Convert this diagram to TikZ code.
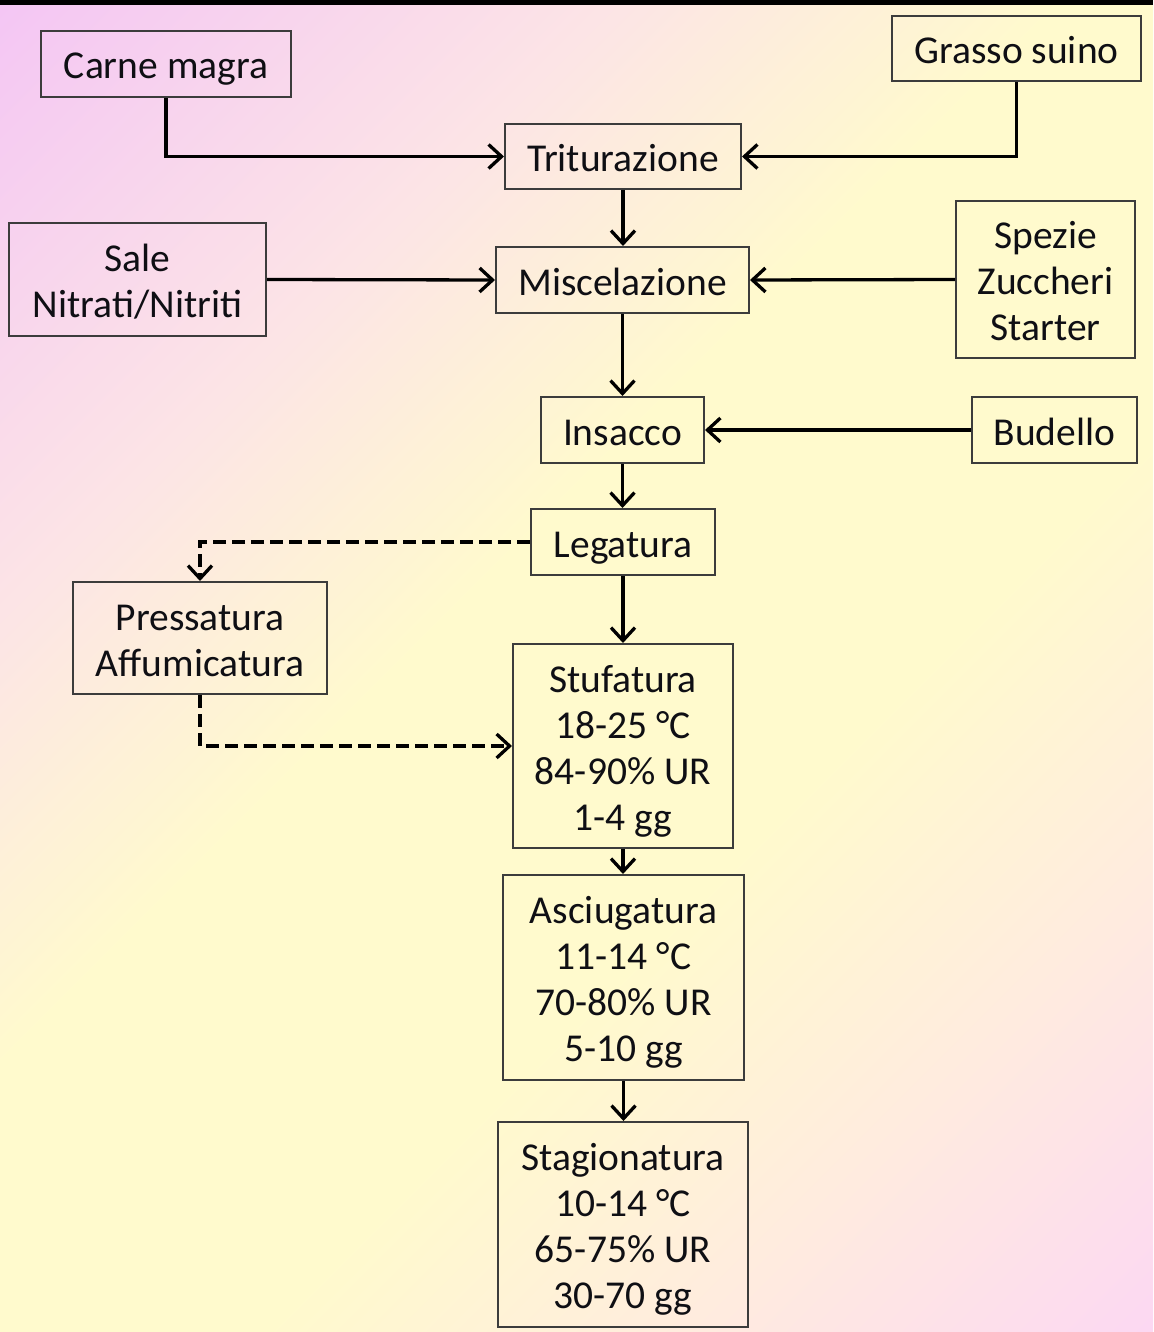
\documentclass[tikz,border=0pt]{standalone}
\usepackage{fontspec}
\setmainfont{Carlito}
\usetikzlibrary{arrows.meta}
\definecolor{pinkA}{RGB}{244,198,244}
\definecolor{peachA}{RGB}{252,228,230}
\definecolor{yel}{RGB}{255,250,205}
\definecolor{peachB}{RGB}{255,236,222}
\definecolor{pinkB}{RGB}{252,216,242}
\definecolor{boxgray}{RGB}{60,60,60}
\definecolor{txt}{RGB}{15,15,20}
\pgfdeclareverticalshading{bggrad}{100bp}{color(0bp)=(pinkB); color(14.64bp)=(pinkB); color(28bp)=(peachB); color(40bp)=(yel); color(55bp)=(yel); color(68bp)=(peachA); color(85.36bp)=(pinkA); color(100bp)=(pinkA)}
\newcommand{\firstl}{\rule{0pt}{39pt}}
\tikzset{
  box/.style={draw=boxgray, line width=2pt, align=center, inner sep=0pt,
    text=txt, font=\fontsize{39.5}{46}\selectfont,
    execute at begin node={\rule{0pt}{39pt}},
    execute at end node={\rule[-9pt]{0pt}{9pt}}},
  flow/.style={line width=3.3pt, draw=black, -{Straight Barb[length=13pt,width=24pt,line width=3.3pt]}},
  dflow/.style={flow, dash pattern=on 13pt off 6pt}
}
\begin{document}
\begin{tikzpicture}[x=1pt,y=-1pt]
\useasboundingbox (0,0) rectangle (1153,1332);
\shade[shading=bggrad, shading angle=45] (0,0) rectangle (1153,1332);
\fill[black] (0,0) rectangle (1153,5);

\node[box, minimum width=250pt, minimum height=66pt] (carne) at (166,64) {Carne magra};
\node[box, minimum width=249pt, minimum height=65pt] (grasso) at (1016.5,48.5) {Grasso suino};
\node[box, minimum width=236pt, minimum height=65pt] (trit) at (623,156.5) {Triturazione};
\node[box, minimum width=257pt, minimum height=113pt] (sale) at (137.5,279.5) {\firstl Sale\\Nitrati/Nitriti};
\node[box, minimum width=253pt, minimum height=66pt] (misc) at (622.5,280) {Miscelazione};
\node[box, minimum width=179pt, minimum height=157pt] (spezie) at (1045.5,279.5) {\firstl Spezie\\Zuccheri\\Starter};
\node[box, minimum width=165pt, minimum height=66pt] (budello) at (1054.5,430) {Budello};
\node[box, minimum width=163pt, minimum height=66pt] (insacco) at (622.5,430) {Insacco};
\node[box, minimum width=184pt, minimum height=66pt] (leg) at (623,542) {Legatura};
\node[box, minimum width=254pt, minimum height=112pt] (press) at (200,638) {\firstl Pressatura\\Affumicatura};
\node[box, minimum width=220pt, minimum height=204pt] (stuf) at (623,746) {\firstl Stufatura\\18-25 °C\\84-90\% UR\\1-4 gg};
\node[box, minimum width=241pt, minimum height=205pt] (asc) at (623.5,977.5) {\firstl Asciugatura\\11-14 °C\\70-80\% UR\\5-10 gg};
\node[box, minimum width=250pt, minimum height=205pt] (stag) at (623,1224.5) {\firstl Stagionatura\\10-14 °C\\65-75\% UR\\30-70 gg};

\draw[flow] (carne.south) |- (trit.west);
\draw[flow] (grasso.south) |- (trit.east);
\draw[flow] (trit.south) -- (misc.north -| trit.south);
\draw[flow] (sale.east) -- (misc.west);
\draw[flow] (spezie.west) -- (misc.east);
\draw[flow] (misc.south) -- (insacco.north -| misc.south);
\draw[flow] (budello.west) -- (insacco.east);
\draw[flow] (insacco.south) -- (leg.north -| insacco.south);
\draw[flow] (leg.south) -- (stuf.north -| leg.south);
\draw[flow] (stuf.south) -- (asc.north -| stuf.south);
\draw[flow] (asc.south) -- (stag.north -| asc.south);
\draw[dflow] (leg.west) -| (press.north);
\draw[dflow] (press.south) |- (stuf.west);
\end{tikzpicture}
\end{document}
